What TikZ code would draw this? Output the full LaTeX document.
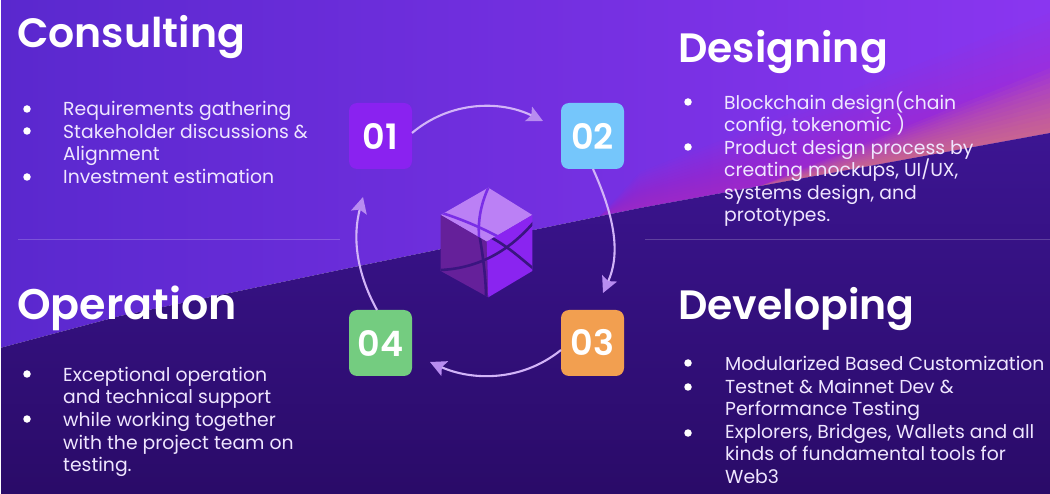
\documentclass[tikz,border=0pt]{standalone}
\usepackage{fontspec}
\setmainfont{Poppins}
\newfontfamily\titlefont{Poppins SemiBold}
\usetikzlibrary{arrows.meta,calc}
\definecolor{bgTL}{HTML}{5A28CE}
\definecolor{bgTR}{HTML}{8A36F0}
\definecolor{bgDA}{HTML}{3C1592}
\definecolor{bgDB}{HTML}{2A0B68}
\definecolor{bodytxt}{HTML}{EFE6FF}
\definecolor{arrowc}{HTML}{D2B4F8}
\definecolor{headc}{HTML}{B88CF0}
\definecolor{glowA}{HTML}{D428B0}
\definecolor{glowB}{HTML}{F8A860}
\definecolor{cubeT}{HTML}{BB80F5}
\definecolor{cubeL}{HTML}{65209A}
\definecolor{cubeR}{HTML}{8A24F0}
\definecolor{lineL}{HTML}{7A2EE6}
\definecolor{lineD}{HTML}{3A1580}
\definecolor{boxA}{HTML}{8A22F0}
\definecolor{boxB}{HTML}{75C6FB}
\definecolor{boxC}{HTML}{F29F50}
\definecolor{boxD}{HTML}{74CC80}
\tikzset{
 x=1pt,y=-1pt,
 title/.style={anchor=base west,inner sep=0,text=white,font=\titlefont\fontsize{41}{41}\selectfont},
 item/.style={anchor=base west,inner sep=0,yshift=-0.7pt,text=bodytxt,align=left,font=\fontsize{18.8}{22.6}\selectfont},
 dot/.style={circle,fill=white,inner sep=0,minimum size=7.5pt},
 numbox/.style={rounded corners=8pt,minimum width=63pt,minimum height=66pt,inner sep=0,text=white,font=\titlefont\fontsize{35}{35}\selectfont},
 flow/.style={draw=arrowc,line width=2.1pt,-{Stealth[length=16pt,width=16pt,inset=3pt,color=headc]}},
 sep/.style={draw=white,draw opacity=.2,line width=.8pt}
}
\begin{document}
\begin{tikzpicture}
\useasboundingbox (0,0) rectangle (1050,494);
% background
\begin{scope}
\clip (0,0) -- (1050,0) -- (1050,133) -- (640,208) -- (330,272) -- (120,316) -- (0,348) -- cycle;
\shade[left color=bgTL,right color=bgTR] (0,0) rectangle (1050,350);
\foreach \h in {8,16,...,120} {
  \fill[glowA,fill opacity=.035] (600,216) -- (640,208) -- (1050,133) -- (1050,133-\h) -- (640,208-0.30*\h) -- cycle;
}
\foreach \h in {5,10,...,65} {
  \fill[glowB,fill opacity=.05] (760,186) -- (1050,133) -- (1050,133-\h) -- cycle;
}
\end{scope}
\begin{scope}
\clip (0,348) -- (120,316) -- (330,272) -- (640,208) -- (1050,133) -- (1050,494) -- (0,494) -- cycle;
\shade[top color=bgDA,bottom color=bgDB] (0,133) rectangle (1050,494);
\end{scope}
\fill[white] (0,0) rectangle (1,494);
% separators
\coordinate (sa) at (18,239); \coordinate (sb) at (340,239);
\coordinate (sc) at (645,239); \coordinate (sd) at (1050,239);
\draw[sep] (sa) -- (sb);
\draw[sep] (sc) -- (sd);
% titles
\node[title] (t1) at (17,48) {Consulting};
\node[title] (t2) at (678,63) {Designing};
\node[title,font=\titlefont\fontsize{42.8}{43}\selectfont] (t3) at (17,320) {Operation};
\node[title] (t4) at (678,320) {Developing};
% consulting
\node[dot] (b1) at (27,109) {};
\node[dot] (b2) at (27,131) {};
\node[dot] (b3) at (27,177) {};
\node[item] (c1) at (63,115) {Requirements gathering};
\node[item] (c2) at (63,137.5) {Stakeholder discussions \&};
\node[item] (c2b) at (63,160) {Alignment};
\node[item] (c3) at (63,183) {Investment estimation};
% designing
\node[dot] (b4) at (688,102) {};
\node[dot] (b5) at (688,147) {};
\node[item] (d1) at (724,109) {Blockchain design(chain};
\node[item] (d1b) at (724,131) {config, tokenomic )};
\node[item] (d2) at (724,154) {Product design process by};
\node[item] (d2b) at (724,176) {creating mockups, UI/UX,};
\node[item] (d2c) at (724,199) {systems design, and};
\node[item] (d2d) at (724,221) {prototypes.};
% operation
\node[dot] (b6) at (27,374) {};
\node[dot] (b7) at (27,419) {};
\node[item] (o1) at (63,381) {Exceptional operation};
\node[item] (o1b) at (63,403) {and technical support};
\node[item] (o2) at (63,426) {while working together};
\node[item] (o2b) at (63,449) {with the project team on};
\node[item] (o2c) at (63,471) {testing.};
% developing
\node[dot] (b8) at (688,363) {};
\node[dot] (b9) at (688,387) {};
\node[dot] (b10) at (688,433) {};
\node[item] (v1) at (725,370) {Modularized Based Customization};
\node[item] (v2) at (725,393) {Testnet \& Mainnet Dev \&};
\node[item] (v2b) at (725,415) {Performance Testing};
\node[item] (v3) at (725,438) {Explorers, Bridges, Wallets and all};
\node[item] (v3b) at (725,460) {kinds of fundamental tools for};
\node[item] (v3c) at (725,483) {Web3};
% boxes
\node[numbox,fill=boxA] (n1) at (380.5,136) {01};
\node[numbox,fill=boxB] (n2) at (592.5,136) {02};
\node[numbox,fill=boxC] (n3) at (592.5,343) {03};
\node[numbox,fill=boxD] (n4) at (380.5,343) {04};
% connectors
\coordinate (a1) at (412,133); \coordinate (a2) at (543,121);
\coordinate (b1s) at (593,169); \coordinate (b2e) at (603,293);
\coordinate (c1s) at (561,350); \coordinate (c2e) at (430,362);
\coordinate (d1s) at (377,310); \coordinate (d2e) at (363,197);
\draw[flow] (a1) .. controls (450,101) and (500,100) .. (a2);
\draw[flow] (b1s) .. controls (616,220) and (620,255) .. (b2e);
\draw[flow] (c1s) .. controls (520,383) and (470,380) .. (c2e);
\draw[flow] (d1s) .. controls (355,270) and (353,235) .. (d2e);
% cube
\coordinate (top) at (488.3,187.7);
\coordinate (rt) at (532.3,215);
\coordinate (rb) at (532.3,271);
\coordinate (bot) at (488.3,297.3);
\coordinate (lb) at (440.7,271);
\coordinate (lt) at (440.7,215);
\coordinate (mid) at (486.7,241.7);
\fill[cubeT] (top) -- (rt) -- (mid) -- (lt) -- cycle;
\fill[cubeL] (lt) -- (mid) -- (bot) -- (lb) -- cycle;
\fill[cubeR] (rt) -- (rb) -- (bot) -- (mid) -- cycle;
\begin{scope}
\clip (top) -- (rt) -- (mid) -- (lt) -- cycle;
\draw[line width=2.6pt,lineL] (top) .. controls (476,215) and (476,240) .. (486,275);
\draw[line width=2.6pt,lineL] (442,213) .. controls (470,222) and (490,232) .. (510,243);
\end{scope}
\begin{scope}
\clip (rt) -- (rb) -- (bot) -- (lb) -- (lt) -- (mid) -- cycle;
\draw[line width=2.6pt,lineD] (479,233) .. controls (483,255) and (486,280) .. (486,297);
\draw[line width=2.6pt,lineD] (480,232) .. controls (505,243) and (520,258) .. (534,269);
\draw[line width=2.6pt,lineD] (441,270) .. controls (480,268) and (510,250) .. (534,222);
\end{scope}
\end{tikzpicture}
\end{document}
